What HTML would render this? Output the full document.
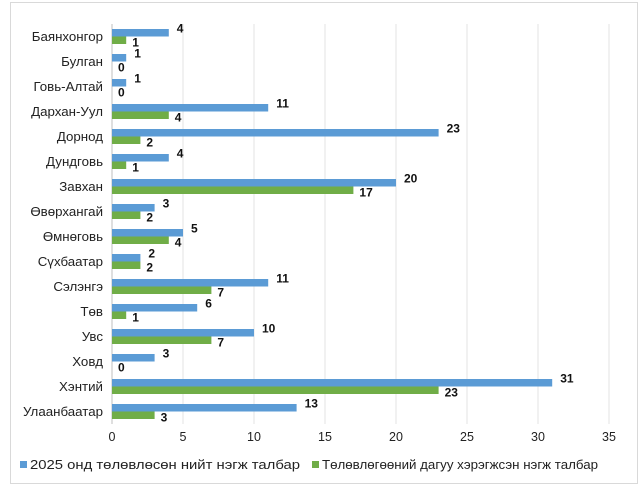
<!DOCTYPE html>
<html><head><meta charset="utf-8"><style>
body{margin:0;background:#fff;}
svg{display:block;font-family:"Liberation Sans",sans-serif;}
</style></head><body>
<svg id="chart" width="643" height="495">
<rect x="10.5" y="2.5" width="627" height="481" fill="#fff" stroke="#d9d9d9"/>
<g id="grid"></g><g id="bars"></g><g id="labels"></g>
<g>
<rect x="20" y="461" width="7" height="7" fill="#5b9bd5"/>
<text x="30" y="469" font-size="13" textLength="270" lengthAdjust="spacingAndGlyphs" fill="#222">2025 онд төлөвлөсөн нийт нэгж талбар</text>
<rect x="312" y="461" width="7" height="7" fill="#70ad47"/>
<text x="322" y="469" font-size="13" textLength="276" lengthAdjust="spacingAndGlyphs" fill="#222">Төлөвлөгөөний дагуу хэрэгжсэн нэгж талбар</text>
</g>
</svg>
<script>
const categories=["Баянхонгор","Булган","Говь-Алтай","Дархан-Уул","Дорнод","Дундговь","Завхан","Өвөрхангай","Өмнөговь","Сүхбаатар","Сэлэнгэ","Төв","Увс","Ховд","Хэнтий","Улаанбаатар"];
const planned=[4,1,1,11,23,4,20,3,5,2,11,6,10,3,31,13];
const actual=[1,0,0,4,2,1,17,2,4,2,7,1,7,0,23,3];
const ticks=[0,5,10,15,20,25,30,35];
const NS="http://www.w3.org/2000/svg";
const X0=112,X1=609,PT=24,PB=424;
const xs=v=>X0+(X1-X0)*v/35;
const band=(PB-PT)/categories.length;
const bh=7.5;
function el(t,a,p){const e=document.createElementNS(NS,t);for(const k in a)e.setAttribute(k,a[k]);p.appendChild(e);return e;}
const grid=document.getElementById('grid'),bars=document.getElementById('bars'),labels=document.getElementById('labels');
ticks.forEach(t=>{
 const l=el('line',{x1:xs(t),x2:xs(t),y1:PT,y2:PB,stroke:t===0?'#bfbfbf':'#e3e3e3','stroke-width':1},grid);
 
 
 const tx=el('text',{x:xs(t),y:441,'font-size':12.5,'text-anchor':'middle',fill:'#222'},grid);
 tx.textContent=t;
 
 
});
categories.forEach((c,i)=>{
 const cy=PT+band*i+band/2;
 const ct=el('text',{x:103,y:cy+4.5,'font-size':13.3,'text-anchor':'end',fill:'#222'},labels);
 ct.textContent=c;
 
 
 const b1=el('rect',{x:X0,y:cy-bh,width:xs(planned[i])-X0,height:bh,fill:'#5b9bd5'},bars);
 
 
 const b2=el('rect',{x:X0,y:cy,width:xs(actual[i])-X0,height:bh,fill:'#70ad47'},bars);
 
 
 const t1=el('text',{x:xs(planned[i])+8,y:cy-4,'font-size':12,'font-weight':'bold',fill:'#111'},labels);
 t1.textContent=planned[i];
 
 
 const t2=el('text',{x:xs(actual[i])+6,y:cy+10,'font-size':12,'font-weight':'bold',fill:'#111'},labels);
 t2.textContent=actual[i];
 
 
});
</script>
</body></html>
